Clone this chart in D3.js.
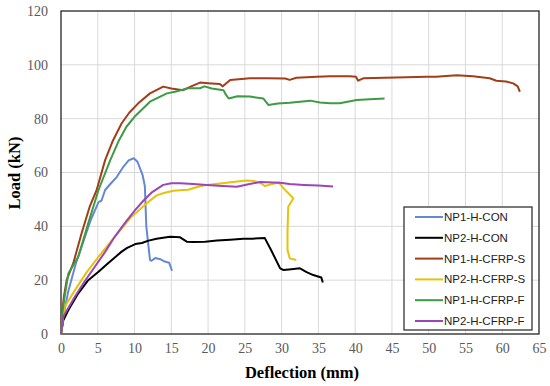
<!DOCTYPE html>
<html>
<head>
<meta charset="utf-8">
<script src="https://cdn.jsdelivr.net/npm/d3@7"></script>
<style>
  body { margin: 0; background: #fff; }
  svg { display: block; }
</style>
</head>
<body>
<svg width="550" height="386"></svg>
<script>
// deflection (mm), load (kN) pairs
const np1Con = [[0,0],[0.5,9],[1,16],[2,26],[3,34],[4,42],[5.1,49],[5.5,49.5],[6,53.5],[6.8,56],[7.6,58.4],[8.5,62.2],[9.2,64.5],[9.9,65.3],[10.4,64],[11.1,59],[11.4,55],[11.6,40],[12.1,27.5],[12.3,27.2],[12.8,28.2],[13.5,27.8],[14.1,26.9],[14.7,26.5],[15.1,23.5]];
const np2Con = [[0,0],[0.3,5],[1,8.9],[2.35,15.1],[3.7,20],[5.1,23.1],[6.4,26.3],[8.25,30.6],[9,32],[10.1,33.4],[11,33.8],[11.9,34.7],[13,35.4],[14.8,36.1],[15.6,36],[16.2,35.9],[17.1,34.3],[18,34.2],[19.6,34.3],[21.2,34.7],[23,35],[24.8,35.4],[26,35.4],[27.7,35.7],[28.6,31],[29.8,24.4],[30.2,23.8],[31,24],[32.5,24.4],[33.4,23],[34.3,21.9],[35.4,21],[35.6,19.1]];
const np1CfrpS = [[0,0],[0.1,6.4],[0.4,14],[0.77,20],[1.67,26.3],[2.8,37.4],[3.9,47.3],[4.85,53.5],[6,64.6],[7,71.5],[8.25,78.3],[9.3,82.3],[10.5,85.7],[12.1,89.4],[13.9,91.9],[15,91.2],[16.6,90.6],[17.7,92],[18.9,93.4],[20,93.2],[21.6,92.9],[22,92],[23,94.4],[25.7,95],[28,95],[30.5,94.9],[31.1,94.4],[32,95.2],[34.8,95.6],[36.6,95.8],[39.3,95.8],[40.1,95.6],[40.4,94.1],[41.1,95],[44,95.2],[47,95.4],[49.7,95.6],[51,95.6],[53.8,96.1],[56,95.8],[58.3,95],[59.2,94.1],[60.5,93.8],[61.5,93.1],[62.1,92],[62.4,90]];
const np2CfrpS = [[0,0],[0.5,10.1],[1.9,16.3],[3.5,23],[5.1,28.7],[7.3,36.1],[9.6,43.6],[11.9,49.1],[13,51.5],[14.1,52.5],[15.3,53.2],[16.6,53.5],[17.3,53.6],[18.5,54.6],[19.8,55.4],[22.5,56.2],[25.2,57],[26.3,56.8],[27.1,56.2],[27.7,55],[28.6,55.6],[29.6,56.3],[30.3,54],[31.6,50.4],[30.9,47.3],[30.8,38],[30.8,31.2],[31.1,28.1],[32,27.5]];
const np1CfrpF = [[0,0],[0.1,6],[0.5,14],[1,22.5],[2.35,28.7],[3.7,41.1],[5.1,53.5],[6.7,64.6],[7.8,71.5],[8.9,77],[10.1,81],[11.4,84.4],[12.1,86.3],[14.4,89.4],[15.5,90],[17.3,91.3],[18.9,91.3],[19.5,92],[20.5,91.2],[22.1,90.6],[22.4,89],[22.8,87.5],[24,88.3],[25.7,88.2],[27.5,87.5],[28.2,85.1],[29.5,85.6],[31.1,85.9],[33.9,86.7],[35.2,86],[36.6,85.7],[37.9,85.7],[40.2,86.9],[42,87.2],[44,87.5]];
const np2CfrpF = [[0,0],[0.3,6.4],[1.9,13.9],[3.2,19.5],[4.6,25],[6,30.5],[7.3,36.1],[8.7,41.3],[10.1,46.1],[11.2,49.5],[12.3,52.5],[13.9,55.4],[15,56],[16.2,56],[18,55.7],[19.8,55.4],[22,55],[23.9,54.7],[25.5,55.6],[27.1,56.5],[29.8,56.2],[31.1,55.7],[33,55.4],[35,55.2],[37,54.8]];

const seriesNames = ["NP1-H-CON", "NP2-H-CON", "NP1-H-CFRP-S", "NP2-H-CFRP-S", "NP1-H-CFRP-F", "NP2-H-CFRP-F"];
const seriesData = [np1Con, np2Con, np1CfrpS, np2CfrpS, np1CfrpF, np2CfrpF];
const seriesColors = ["#6489d4", "#000000", "#a23d17", "#e6c20a", "#3e9a44", "#9b45b8"];

const xTicks = d3.range(0, 66, 5);
const yTicks = d3.range(0, 121, 20);

const svg = d3.select("svg");
const plotLeft = 61, plotRight = 539, plotTop = 11, plotBottom = 334;

const x = d3.scaleLinear().domain([0, 65]).range([plotLeft, plotRight]);
const y = d3.scaleLinear().domain([0, 120]).range([plotBottom, plotTop]);

// grid
svg.append("g")
  .selectAll("line")
  .data(xTicks.slice(1, -1))
  .join("line")
  .attr("x1", d => x(d)).attr("x2", d => x(d))
  .attr("y1", plotTop).attr("y2", plotBottom)
  .attr("stroke", "#d9d9d9").attr("stroke-width", 1);

svg.append("g")
  .selectAll("line")
  .data(yTicks.slice(1, -1))
  .join("line")
  .attr("x1", plotLeft).attr("x2", plotRight)
  .attr("y1", d => y(d)).attr("y2", d => y(d))
  .attr("stroke", "#d9d9d9").attr("stroke-width", 1);

// axes
const xAxis = svg.append("g")
  .attr("transform", `translate(0,${plotBottom})`)
  .call(d3.axisBottom(x).tickValues(xTicks).tickSize(0).tickPadding(9));
const yAxis = svg.append("g")
  .attr("transform", `translate(${plotLeft},0)`)
  .call(d3.axisLeft(y).tickValues(yTicks).tickSize(0).tickPadding(13));

[xAxis, yAxis].forEach(a => {
  a.select(".domain").remove();
  a.selectAll("text")
    .attr("fill", "#595959")
    .style("font-family", "'Liberation Serif', 'Times New Roman', serif")
    .style("font-size", "14px");
});

// plot border
svg.append("rect")
  .attr("x", plotLeft).attr("y", plotTop)
  .attr("width", plotRight - plotLeft).attr("height", plotBottom - plotTop)
  .attr("fill", "none").attr("stroke", "#262626").attr("stroke-width", 1.3);

// lines
const line = d3.line().x(d => x(d[0])).y(d => y(d[1]));

svg.append("g")
  .selectAll("path")
  .data(seriesData)
  .join("path")
  .attr("d", line)
  .attr("fill", "none")
  .attr("stroke", (d, i) => seriesColors[i])
  .attr("stroke-width", 2)
  .attr("stroke-linejoin", "round");

// axis titles
svg.append("text")
  .attr("x", 302).attr("y", 378)
  .attr("text-anchor", "middle")
  .style("font-family", "'Liberation Serif', 'Times New Roman', serif")
  .style("font-weight", "bold")
  .style("font-size", "16.5px")
  .text("Deflection (mm)");

svg.append("text")
  .attr("transform", "translate(20,173) rotate(-90)")
  .attr("text-anchor", "middle")
  .style("font-family", "'Liberation Serif', 'Times New Roman', serif")
  .style("font-weight", "bold")
  .style("font-size", "16.5px")
  .text("Load (kN)");

// legend
const legend = svg.append("g");
legend.append("rect")
  .attr("x", 404).attr("y", 207)
  .attr("width", 128).attr("height", 123)
  .attr("fill", "#fff").attr("stroke", "#333").attr("stroke-width", 1.3);

const item = legend.selectAll("g.item")
  .data(seriesNames)
  .join("g")
  .attr("class", "item")
  .attr("transform", (d, i) => `translate(0,${217 + i * 20.8})`);

item.append("line")
  .attr("x1", 415).attr("x2", 443)
  .attr("stroke", (d, i) => seriesColors[i])
  .attr("stroke-width", 2);

item.append("text")
  .attr("x", 444).attr("y", 4)
  .style("font-family", "'Liberation Sans', Arial, sans-serif")
  .style("font-size", "11.5px")
  .attr("fill", "#222")
  .text(d => d);
</script>
</body>
</html>
